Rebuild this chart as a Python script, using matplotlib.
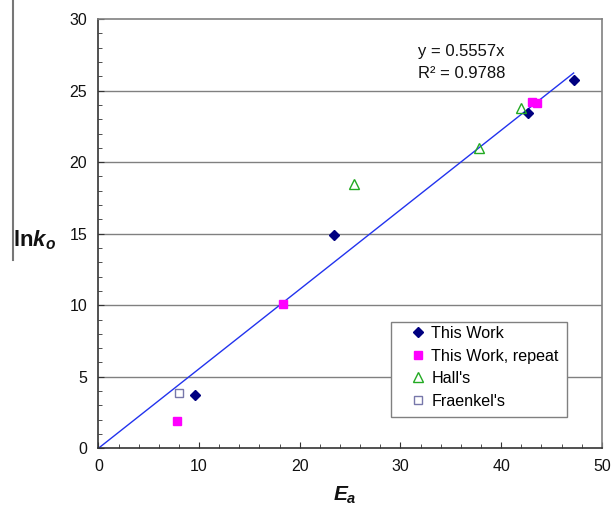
import matplotlib
matplotlib.use("Agg")
import matplotlib.pyplot as plt
from matplotlib.ticker import MultipleLocator
from matplotlib.lines import Line2D
from matplotlib.patches import Rectangle
import numpy as np

plt.rcParams['font.family'] = ['Liberation Sans', 'DejaVu Sans']
plt.rcParams['mathtext.fontset'] = 'custom'
plt.rcParams['mathtext.rm'] = 'Liberation Sans:bold'
plt.rcParams['mathtext.it'] = 'Liberation Sans:bold:italic'
plt.rcParams['mathtext.bf'] = 'Liberation Sans:bold'

# Data
this_work_x = [9.6, 23.4, 42.65, 47.25]
this_work_y = [3.7, 14.9, 23.45, 25.75]
repeat_x = [7.8, 18.35, 43.05, 43.55]
repeat_y = [1.9, 10.1, 24.22, 24.11]
halls_x = [25.4, 37.8, 42.0]
halls_y = [18.5, 21.0, 23.76]
fraenkel_x = [8.0]
fraenkel_y = [3.9]
slope = 0.5557
fit_x_range = [0.0, 47.2]
legend_labels = ['This Work', 'This Work, repeat', "Hall's", "Fraenkel's"]

fig = plt.figure(figsize=(6.11, 5.08), dpi=100)
ax = fig.add_axes([0.161, 0.1175, 0.824, 0.845])

ax.set_xlim(0, 50)
ax.set_ylim(0, 30)

# gridlines
for yv in [5, 10, 15, 20, 25]:
    ax.axhline(yv, color='#808080', lw=1.0, zorder=1)

fx = np.array(fit_x_range)
ax.plot(fx, slope * fx, color='#2233ee', lw=1.0, zorder=2)

ax.plot(this_work_x, this_work_y, linestyle='none', marker='D', ms=5.2,
        color='#000080', zorder=3)
ax.plot(repeat_x, repeat_y, linestyle='none', marker='s', ms=5.3,
        color='#ff00ff', zorder=3)
ax.plot(halls_x, halls_y, linestyle='none', marker='^', ms=6.5, mfc='none',
        mec='#22aa22', mew=1.0, zorder=3)
ax.plot(fraenkel_x, fraenkel_y, linestyle='none', marker='s', ms=5.8, mfc='none',
        mec='#7777aa', mew=1.0, zorder=3)

# spines
ax.spines['left'].set_color('#333333')
ax.spines['bottom'].set_color('#333333')
ax.spines['top'].set_color('#808080')
ax.spines['right'].set_color('#808080')
for s in ax.spines.values():
    s.set_linewidth(1.2)

ax.xaxis.set_major_locator(MultipleLocator(10))
ax.xaxis.set_minor_locator(MultipleLocator(2))
ax.yaxis.set_major_locator(MultipleLocator(5))
ax.yaxis.set_minor_locator(MultipleLocator(1))
ax.tick_params(which='both', direction='in', color='#333333', labelsize=11.5,
               labelcolor='#111111')
ax.tick_params(which='major', length=4, pad=8)
ax.tick_params(which='minor', length=3)
ax.tick_params(axis='y', which='both', right=False)
ax.tick_params(axis='x', which='both', top=False)

ax.text(31.7, 27.7, 'y = 0.5557x', fontsize=12, color='#111111', va='center')
ax.text(31.7, 26.2, 'R² = 0.9788', fontsize=12, color='#111111', va='center')

# legend box
ax.add_patch(Rectangle((29.04, 2.21), 46.55 - 29.04, 8.83 - 2.21, facecolor='white',
                       edgecolor='#808080', lw=1.0, zorder=4))
handles = [
    Line2D([], [], linestyle='none', marker='D', ms=5.2, color='#000080'),
    Line2D([], [], linestyle='none', marker='s', ms=5.3, color='#ff00ff'),
    Line2D([], [], linestyle='none', marker='^', ms=6.5, mfc='none', mec='#22aa22'),
    Line2D([], [], linestyle='none', marker='s', ms=5.8, mfc='none', mec='#7777aa'),
]
leg = ax.legend(handles, legend_labels, loc='center left',
                bbox_to_anchor=(31.15, 5.66), bbox_transform=ax.transData,
                fontsize=11.6, frameon=False,
                handlelength=0.8, handletextpad=0.4, borderpad=0,
                labelspacing=0.47, borderaxespad=0)
leg.set_zorder(5)

fig.text(0.021, 1 - 240 / 508, r'$\mathrm{ln}k_{o}$', fontsize=16, va='center',
         ha='left', color='#111111')
fig.text(345 / 611, 1 - 495 / 508, r'$E_a$', fontsize=15, va='center',
         ha='center', color='#111111')
fig.add_artist(Line2D([12.5 / 611, 12.5 / 611], [1.0, 1 - 260 / 508],
                      transform=fig.transFigure, color='#777777', lw=1.5))

fig.savefig('out.png', dpi=100)
